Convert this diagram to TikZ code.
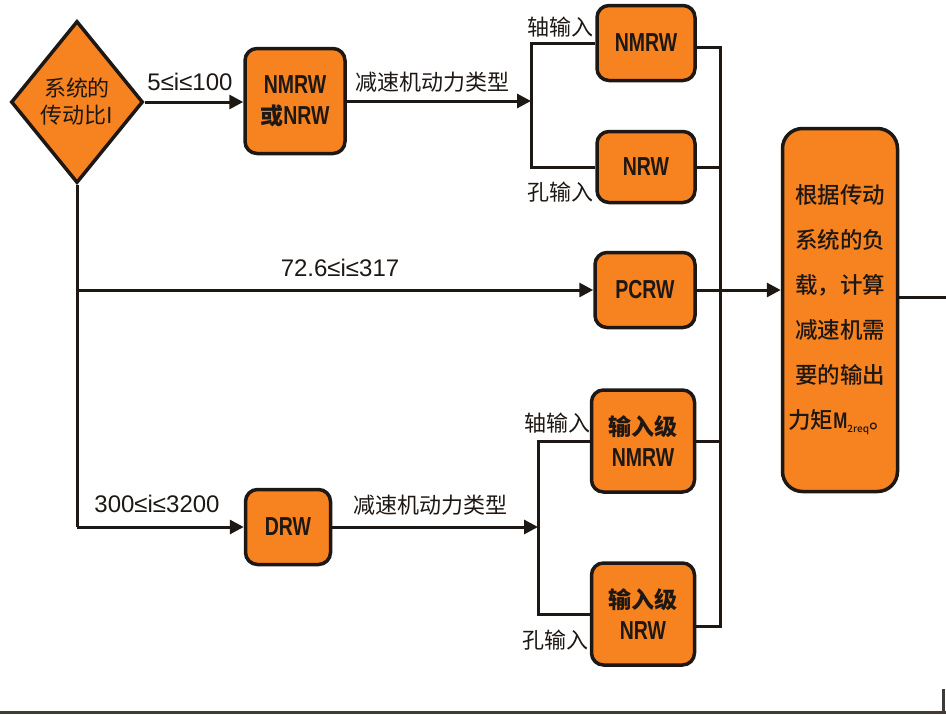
\documentclass[tikz,border=0pt]{standalone}
\usepackage{fontspec}
\setmainfont{Liberation Sans}
\newfontfamily\cjk{Noto Sans CJK SC}
\newfontfamily\cjkm{Noto Sans CJK SC Medium}
\newfontfamily\blat{Liberation Sans}[FakeStretch=0.75]
\usetikzlibrary{arrows.meta,shapes.geometric}
\definecolor{org}{RGB}{246,130,32}
\definecolor{ink}{RGB}{30,24,20}
\tikzset{
 box/.style={draw=ink, line width=3.5pt, fill=org, rounded corners=12pt, align=center, inner sep=0pt, text=ink, font=\blat\bfseries\fontsize{26}{31}\selectfont},
 conn/.style={draw=ink, line width=3pt},
 arr/.style={conn, -{Triangle[length=14pt,width=14pt]}},
 lbl/.style={text=ink, inner sep=0pt, font=\fontsize{24}{24}\selectfont},
 clbl/.style={text=ink, inner sep=0pt, font=\cjk\fontsize{22}{22}\selectfont},
}
\newcommand\zh[1]{{\cjkm\fontsize{23}{31}\selectfont #1}}
\begin{document}
\begin{tikzpicture}[x=1pt,y=-1pt]
\useasboundingbox (0,0) rectangle (946,715);
% decision
\node[diamond, draw=ink, line width=3.5pt, fill=org, aspect=0.82, minimum width=132pt, minimum height=162pt, inner sep=0pt, align=center, text=ink, font=\cjk\fontsize{22}{27}\selectfont] (d) at (77,102) {系统的\\传动比I};
% boxes
\node[box, minimum width=100pt, minimum height=105pt] (n1) at (295,101) {NMRW\\\zh{或}NRW};
\node[box, minimum width=98pt, minimum height=75pt] (n2) at (646,43) {NMRW};
\node[box, minimum width=98pt, minimum height=71pt] (n3) at (646,167) {NRW};
\node[box, minimum width=100pt, minimum height=75pt] (pc) at (645,290) {PCRW};
\node[box, minimum width=85pt, minimum height=75pt] (drw) at (288,527) {DRW};
\node[box, minimum width=103pt, minimum height=102pt] (n4) at (643,441) {\zh{输入级}\\NMRW};
\node[box, minimum width=103pt, minimum height=102pt] (n5) at (643,614) {\zh{输入级}\\NRW};
\node[box, rounded corners=20pt, minimum width=115pt, minimum height=363pt, font=\cjkm\fontsize{22.5}{45}\selectfont] (big) at (840,310) {根据传动\\系统的负\\载，计算\\减速机需\\要的输出\\力矩{\blat\bfseries M}{\fontsize{10}{10}\selectfont\raisebox{-4pt}{2req}}。};
% labels
\node[lbl] (l1) at (190,82) {5≤i≤100};
\node[clbl] (l2) at (432,82) {减速机动力类型};
\node[clbl] (l3) at (560,27) {轴输入};
\node[clbl] (l4) at (560,192) {孔输入};
\node[lbl] (l5) at (340,268) {72.6≤i≤317};
\node[lbl] (l6) at (157,504) {300≤i≤3200};
\node[clbl] (l7) at (430,505) {减速机动力类型};
\node[clbl] (l8) at (557,423) {轴输入};
\node[clbl] (l9) at (555,640) {孔输入};
% coordinates
\coordinate (b1) at (531,101);
\coordinate (b2) at (538,527);
\coordinate (j1) at (77,290);
\coordinate (j2) at (77,527);
\coordinate (cx) at (720,0);
\coordinate (n2e) at ([yshift=-4pt]n2.east);
\coordinate (n5e) at ([yshift=-12pt]n5.east);
\coordinate (rx) at (946,297);
% connectors
\draw[arr] (d.east) -- (d.east -| n1.west);
\draw[arr] (n1.east) -- (b1);
\draw[conn] (n2.west) -| (b1) |- (n3.west);
\draw[conn] (d.south) -- (j2);
\draw[arr] (j1) -- (pc.west);
\draw[arr] (j2) -- (drw.west);
\draw[arr] (drw.east) -- (b2);
\draw[conn] (n4.west) -| (b2) |- (n5.west);
\draw[conn] (n2e) -| (cx |- n5e) -- (n5e);
\draw[conn] (n3.east) -- (n3.east -| cx);
\draw[conn] (n4.east) -- (n4.east -| cx);
\draw[arr] (pc.east) -- (pc.east -| big.west);
\draw[conn] (big.east |- rx) -- (rx);
% frame lines at the bottom right
\draw[line width=3pt, draw=ink!85] (0,712) -- (946,712);
\draw[line width=3pt, draw=ink!85] (943,689) -- (943,713);
\end{tikzpicture}
\end{document}
